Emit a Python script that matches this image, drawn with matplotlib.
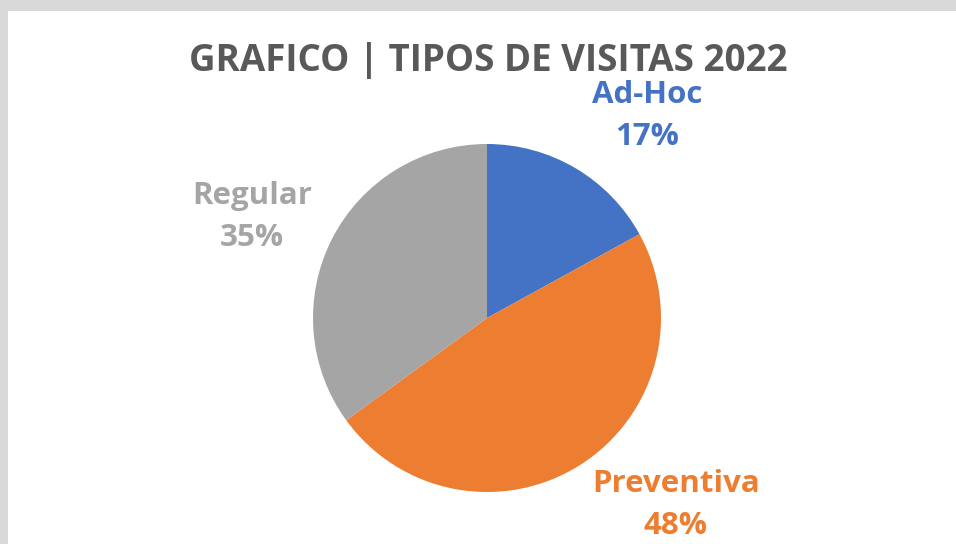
import matplotlib.pyplot as plt
from matplotlib.patches import Rectangle

# data
tipos = ["Ad-Hoc", "Preventiva", "Regular"]
porcentajes = [17, 48, 35]
colores = ["#4472C4", "#ED7D31", "#A5A5A5"]

W, H = 956, 544
fig = plt.figure(figsize=(W / 100, H / 100), dpi=100, facecolor="#D9D9D9")
# white chart area inside the grey frame
fig.add_artist(Rectangle((8 / W, 0), 1 - 8 / W, 1 - 11 / H,
                         transform=fig.transFigure, facecolor="white",
                         edgecolor="none", zorder=0))

fuente = "Open Sans"

# pie: center (487, 318) px, radius 174 px
cx, cy, r = 487, 318, 174
ax = fig.add_axes([(cx - r) / W, (H - cy - r) / H, 2 * r / W, 2 * r / H])
ax.pie(porcentajes, colors=colores, startangle=90, counterclock=False,
       wedgeprops=dict(linewidth=0))
ax.set_xlim(-1, 1)
ax.set_ylim(-1, 1)
ax.set_aspect("equal")
ax.axis("off")

# label centers in pixels
pos_labels = [(647, 116), (676, 505), (252, 217)]
for nombre, p, c, (px, py) in zip(tipos, porcentajes, colores, pos_labels):
    ax.text((px - cx) / r, (cy - py) / r, f"{nombre}\n{p}%", color=c,
            ha="center", va="center", fontsize=22.5, fontweight="bold",
            family=fuente, linespacing=1.5)

fig.text(488 / W, 1 - 61 / H, "GRAFICO | TIPOS DE VISITAS 2022",
         ha="center", va="center", fontsize=26.5, fontweight="bold",
         color="#595959", family=fuente)

fig.savefig("out.png", dpi=100, facecolor=fig.get_facecolor())
